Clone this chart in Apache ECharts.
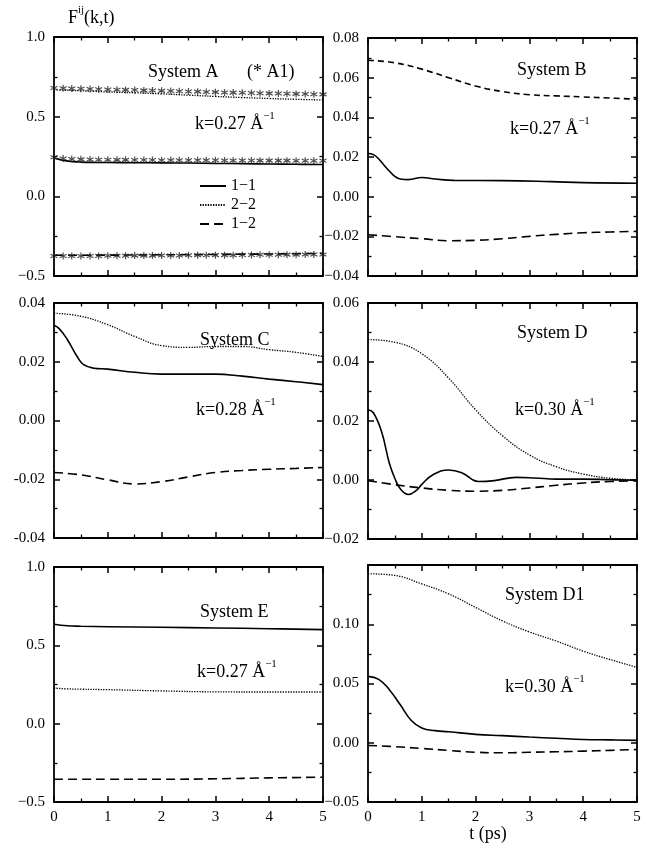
<!DOCTYPE html>
<html><head><meta charset="utf-8">
<script src="https://cdn.jsdelivr.net/npm/echarts@6/dist/echarts.min.js"></script>
<style>html,body{margin:0;padding:0;background:#fff}#c{width:654px;height:852px}</style>
</head><body><div id="c"></div>
<script>
const FONT = '"Liberation Serif","Times New Roman",serif';

// ---- x axis (time, ps) ----
const xTickLabels = ['0','1','2','3','4','5'];

// ---- Panel A (k=0.27) ----
const tA   = [0, 0.1, 0.2, 0.35, 0.5, 0.75, 1, 1.5, 2, 2.5, 3, 3.5, 4, 4.5, 5];
const A_11 = [0.240, 0.232, 0.224, 0.218, 0.215, 0.213, 0.212, 0.211, 0.210, 0.209, 0.207, 0.205, 0.203, 0.201, 0.200];
const A_22 = [0.668, 0.667, 0.666, 0.664, 0.662, 0.659, 0.655, 0.650, 0.643, 0.635, 0.627, 0.620, 0.614, 0.609, 0.605];
const A_12 = [-0.370, -0.370, -0.370, -0.370, -0.370, -0.369, -0.369, -0.368, -0.367, -0.366, -0.365, -0.363, -0.362, -0.360, -0.358];
// A1 reference points (stars)
const tA1 = [0, 0.17, 0.33, 0.5, 0.67, 0.83, 1, 1.17, 1.33, 1.5, 1.67, 1.83, 2, 2.17, 2.33, 2.5, 2.67, 2.83, 3, 3.17, 3.33, 3.5, 3.67, 3.83, 4, 4.17, 4.33, 4.5, 4.67, 4.83, 5];
const A1_22 = [0.680, 0.678, 0.677, 0.675, 0.674, 0.672, 0.671, 0.669, 0.668, 0.667, 0.665, 0.664, 0.662, 0.661, 0.660, 0.658, 0.657, 0.655, 0.654, 0.652, 0.651, 0.650, 0.648, 0.647, 0.646, 0.645, 0.644, 0.643, 0.642, 0.641, 0.640];
const A1_11 = [0.245, 0.238, 0.234, 0.232, 0.231, 0.230, 0.230, 0.229, 0.229, 0.228, 0.228, 0.228, 0.227, 0.227, 0.227, 0.226, 0.226, 0.226, 0.226, 0.225, 0.225, 0.225, 0.225, 0.224, 0.224, 0.224, 0.224, 0.223, 0.223, 0.223, 0.223];
const A1_12 = [-0.375, -0.375, -0.375, -0.374, -0.374, -0.374, -0.373, -0.373, -0.373, -0.372, -0.372, -0.372, -0.371, -0.371, -0.371, -0.370, -0.370, -0.370, -0.369, -0.369, -0.369, -0.368, -0.368, -0.367, -0.367, -0.367, -0.366, -0.366, -0.365, -0.365, -0.365];

// ---- Panel B (k=0.27) ----
const tB11 = [0, 0.1, 0.2, 0.3, 0.4, 0.5, 0.6, 0.75, 1.0, 1.25, 1.6, 2.5, 3.4, 4, 5];
const B_11 = [0.0218, 0.0212, 0.0190, 0.0158, 0.0128, 0.0102, 0.0089, 0.0086, 0.0097, 0.0089, 0.0082, 0.0081, 0.0076, 0.0071, 0.0068];
const tB   = [0, 0.5, 1, 1.5, 2, 2.5, 3, 3.5, 4, 4.5, 5];
const B_22 = [0.0688, 0.0675, 0.0643, 0.0600, 0.0558, 0.0530, 0.0514, 0.0508, 0.0503, 0.0497, 0.0492];
const B_12 = [-0.0192, -0.0202, -0.0212, -0.0222, -0.0220, -0.0212, -0.0200, -0.0190, -0.0182, -0.0178, -0.0175];

// ---- Panel C (k=0.28) ----
const tC11 = [0, 0.1, 0.25, 0.43, 0.55, 0.74, 1, 1.5, 2, 2.5, 3, 3.5, 4, 4.5, 5];
const C_11 = [0.0324, 0.0312, 0.0275, 0.0218, 0.0190, 0.0178, 0.0175, 0.0164, 0.0158, 0.0158, 0.0158, 0.0151, 0.0141, 0.0132, 0.0122];
const tC   = [0, 0.5, 1, 1.5, 2, 2.5, 3, 3.5, 4, 4.5, 5];
const C_22 = [0.0365, 0.0355, 0.0326, 0.0286, 0.0255, 0.0249, 0.0252, 0.0252, 0.0241, 0.0232, 0.0218];
const C_12 = [-0.0177, -0.0185, -0.0202, -0.0216, -0.0208, -0.0192, -0.0177, -0.0170, -0.0166, -0.0163, -0.0160];

// ---- Panel D (k=0.30) ----
const tD11 = [0, 0.1, 0.25, 0.4, 0.5, 0.6, 0.75, 0.9, 1.0, 1.2, 1.5, 1.75, 2.05, 2.35, 2.75, 3.1, 3.5, 4, 4.5, 5];
const D_11 = [0.0238, 0.0228, 0.0165, 0.0055, 0.0005, -0.0030, -0.0049, -0.0035, -0.0015, 0.0017, 0.0034, 0.0024, -0.0005, -0.0002, 0.0009, 0.0007, 0.0003, 0.0003, 0.0001, -0.0001];
const tD   = [0, 0.5, 1, 1.5, 2, 2.5, 3, 3.5, 4, 4.5, 5];
const D_22 = [0.0476, 0.0467, 0.0428, 0.0345, 0.0238, 0.0150, 0.0085, 0.0045, 0.0020, 0.0006, 0.0000];
const D_12 = [-0.0002, -0.0016, -0.0027, -0.0035, -0.0038, -0.0035, -0.0027, -0.0018, -0.0010, -0.0005, -0.0003];

// ---- Panel E (k=0.27) ----
const tE   = [0, 0.25, 0.5, 1, 2, 3, 4, 5];
const E_11 = [0.635, 0.625, 0.622, 0.619, 0.615, 0.611, 0.606, 0.600];
const E_22 = [0.227, 0.222, 0.220, 0.217, 0.209, 0.203, 0.202, 0.202];
const E_12 = [-0.355, -0.355, -0.355, -0.355, -0.355, -0.352, -0.346, -0.342];

// ---- Panel D1 (k=0.30) ----
const tF11 = [0, 0.2, 0.4, 0.6, 0.8, 1.0, 1.25, 1.5, 2, 2.5, 3, 3.5, 4, 4.5, 5];
const F_11 = [0.0560, 0.0535, 0.0446, 0.0320, 0.0190, 0.0125, 0.0102, 0.0093, 0.0071, 0.0060, 0.0048, 0.0038, 0.0028, 0.0024, 0.0020];
const tF   = [0, 0.5, 1, 1.5, 2, 2.5, 3, 3.5, 4, 4.5, 5];
const F_22 = [0.1426, 0.1412, 0.1340, 0.1256, 0.1142, 0.1028, 0.0935, 0.0858, 0.0773, 0.0702, 0.0636];
const F_12 = [-0.0023, -0.0033, -0.0048, -0.0065, -0.0080, -0.0085, -0.0080, -0.0076, -0.0071, -0.0064, -0.0057];

// ---- labels ----
const systemNames = ['System A', 'System B', 'System C', 'System D', 'System E', 'System D1'];
const kLabels = ['k=0.27 Å', 'k=0.27 Å', 'k=0.28 Å', 'k=0.30 Å', 'k=0.27 Å', 'k=0.30 Å'];
const seriesNames = ['1−1', '2−2', '1−2'];

// ---------------------------------------------------------------
const panels = [
  {left:54,  top:37,  width:269, height:239, min:-0.5,  max:1.0,  step:0.5,  dec:1, minus:'−'},
  {left:368, top:38,  width:269, height:238, min:-0.04, max:0.08, step:0.02, dec:2, minus:'−'},
  {left:54,  top:303, width:269, height:235, min:-0.04, max:0.04, step:0.02, dec:2, minus:'-'},
  {left:368, top:303, width:269, height:236, min:-0.02, max:0.06, step:0.02, dec:2, minus:'−'},
  {left:54,  top:567, width:269, height:235, min:-0.5,  max:1.0,  step:0.5,  dec:1, minus:'−', xl:true},
  {left:368, top:565, width:269, height:237, min:-0.05, max:0.15, step:0.05, dec:2, minus:'−', xl:true, hideTop:true}
];

const BLACK = '#000';
const tickStyle = {inside:true, length:6, lineStyle:{color:BLACK, width:1.5}};
const minorStyle = {show:true, splitNumber:2, length:3.5, lineStyle:{color:BLACK, width:1.3}};
const axisLineStyle = {show:true, onZero:false, lineStyle:{color:BLACK, width:1.8}};

const grids = [], xAxes = [], yAxes = [];
panels.forEach((p, gi) => {
  grids.push({left:p.left, top:p.top, width:p.width, height:p.height, containLabel:false});
  const xBase = {type:'value', gridIndex:gi, min:0, max:5, interval:1, axisLine:axisLineStyle,
    axisTick:tickStyle, minorTick:minorStyle, splitLine:{show:false}};
  xAxes.push(Object.assign({}, xBase, {position:'bottom',
    axisLabel:{show:!!p.xl, margin:8, color:BLACK, fontFamily:FONT, fontSize:15,
      formatter:v => xTickLabels[Math.round(v)]}}));
  xAxes.push(Object.assign({}, xBase, {position:'top', axisLabel:{show:false}}));
  const yBase = {type:'value', gridIndex:gi, min:p.min, max:p.max, interval:p.step, axisLine:axisLineStyle,
    axisTick:tickStyle, minorTick:minorStyle, splitLine:{show:false}};
  yAxes.push(Object.assign({}, yBase, {position:'left',
    axisLabel:{show:true, margin:9, color:BLACK, fontFamily:FONT, fontSize:15,
      formatter:v => {
        if (p.hideTop && v > p.max - p.step/2) return '';
        let s = Math.abs(v).toFixed(p.dec);
        if (v < -1e-9) s = p.minus + s;
        return s;
      }}}));
  yAxes.push(Object.assign({}, yBase, {position:'right', axisLabel:{show:false}}));
});

const S_SOLID = {color:BLACK, width:1.6, type:'solid'};
const S_DOT   = {color:BLACK, width:1.3, type:[1.3, 1.3]};
const S_DASH  = {color:BLACK, width:1.6, type:[9, 5]};
const S_DASHS = {color:BLACK, width:1.6, type:[6, 4]};

function line(gi, name, ts, vs, ls) {
  return {type:'line', name:name, xAxisIndex:gi*2, yAxisIndex:gi*2,
    data:ts.map((t, i) => [t, vs[i]]), showSymbol:false, symbol:'none',
    smooth:0.45, lineStyle:ls, itemStyle:{color:BLACK}, silent:true, z:3};
}
const STAR = 'path://M5,0L5,10M0.67,2.5L9.33,7.5M0.67,7.5L9.33,2.5';
function stars(ts, vs) {
  return {type:'scatter', name:'A1', xAxisIndex:0, yAxisIndex:0,
    data:ts.map((t, i) => [t, vs[i]]), symbol:STAR, symbolSize:7,
    itemStyle:{color:'rgba(0,0,0,0)', borderColor:'#222', borderWidth:1.2}, silent:true, z:4};
}

const series = [
  line(0, seriesNames[0], tA, A_11, S_SOLID),
  line(0, seriesNames[1], tA, A_22, S_DOT),
  line(0, seriesNames[2], tA, A_12, S_DASH),
  stars(tA1, A1_22), stars(tA1, A1_11), stars(tA1, A1_12),
  line(1, seriesNames[0], tB11, B_11, S_SOLID),
  line(1, seriesNames[1], tB, B_22, S_DASHS),
  line(1, seriesNames[2], tB, B_12, S_DASH),
  line(2, seriesNames[0], tC11, C_11, S_SOLID),
  line(2, seriesNames[1], tC, C_22, S_DOT),
  line(2, seriesNames[2], tC, C_12, S_DASH),
  line(3, seriesNames[0], tD11, D_11, S_SOLID),
  line(3, seriesNames[1], tD, D_22, S_DOT),
  line(3, seriesNames[2], tD, D_12, S_DASH),
  line(4, seriesNames[0], tE, E_11, S_SOLID),
  line(4, seriesNames[1], tE, E_22, S_DOT),
  line(4, seriesNames[2], tE, E_12, S_DASH),
  line(5, seriesNames[0], tF11, F_11, S_SOLID),
  line(5, seriesNames[1], tF, F_22, S_DOT),
  line(5, seriesNames[2], tF, F_12, S_DASH)
];

const rich = {
  n:{fontFamily:FONT, fontSize:18, lineHeight:22, verticalAlign:'bottom', fill:BLACK, color:BLACK},
  s:{fontFamily:FONT, fontSize:11, lineHeight:11, verticalAlign:'top', fill:BLACK, color:BLACK}
};
function txt(x, y, text, align) {
  return {type:'text', x:x, y:y, silent:true, z:10,
    style:{text:text, fontFamily:FONT, fontSize:18, fill:BLACK, align:align || 'left', verticalAlign:'middle'}};
}
function ktxt(x, y, i) {
  return {type:'text', x:x, y:y, silent:true, z:10,
    style:{text:'{n|' + kLabels[i] + '}{s|−1}', rich:rich, fill:BLACK, align:'left', verticalAlign:'middle'}};
}

const graphics = [
  {type:'text', x:68, y:16, silent:true,
    style:{text:'{n|F}{s|ij}{n|(k,t)}', rich:rich, fill:BLACK, align:'left', verticalAlign:'middle'}},
  txt(148, 72, systemNames[0]), txt(247, 72, '(* A1)'), ktxt(195, 122, 0),
  txt(517, 70, systemNames[1]), ktxt(510, 127, 1),
  txt(200, 340, systemNames[2]), ktxt(196, 408, 2),
  txt(517, 333, systemNames[3]), ktxt(515, 408, 3),
  txt(200, 612, systemNames[4]), ktxt(197, 670, 4),
  txt(505, 595, systemNames[5]), ktxt(505, 685, 5),
  txt(488, 834, 't (ps)', 'center')
];

const chart = echarts.init(document.getElementById('c'), null, {renderer:'canvas'});
chart.setOption({
  animation:false,
  backgroundColor:'#fff',
  grid:grids, xAxis:xAxes, yAxis:yAxes,
  legend:{show:true, data:seriesNames, orient:'vertical', left:194, top:173,
    itemWidth:26, itemHeight:12, itemGap:3, selectedMode:false,
    itemStyle:{opacity:0},
    textStyle:{fontFamily:FONT, fontSize:16, color:BLACK}},
  series:series,
  graphic:graphics
});
</script>
</body></html>
